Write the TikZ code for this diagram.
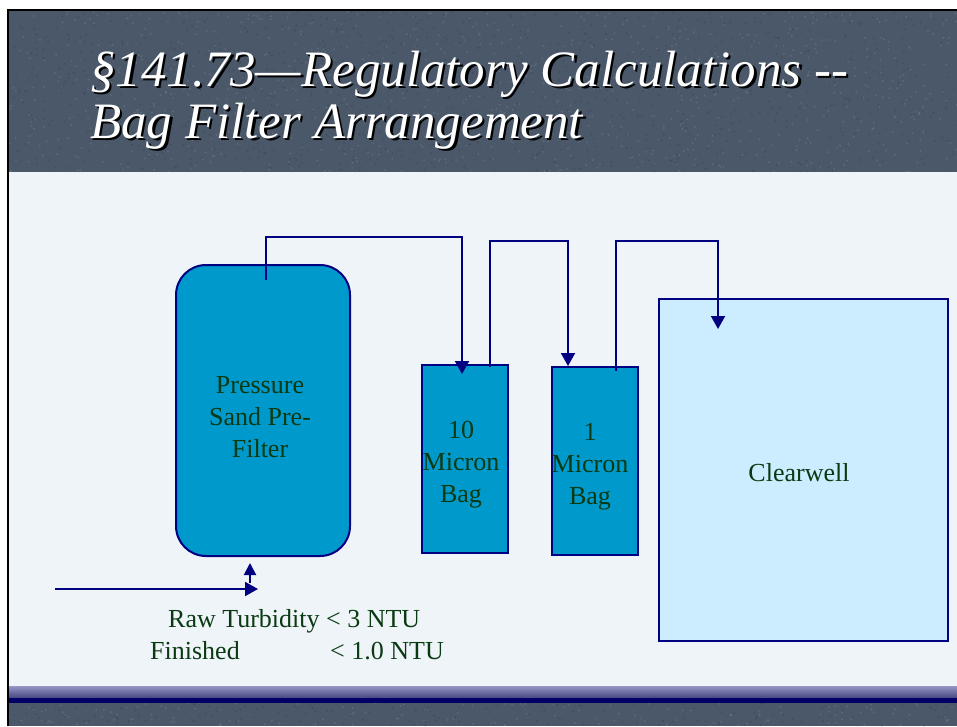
\documentclass[tikz,border=0pt]{standalone}
\usepackage{fontspec}
\setmainfont{Liberation Serif}
\usetikzlibrary{arrows.meta}
\definecolor{navyline}{RGB}{0,0,128}
\definecolor{slate}{RGB}{74,88,106}
\definecolor{paper}{RGB}{239,244,249}
\definecolor{tank}{RGB}{0,153,204}
\definecolor{well}{RGB}{204,236,255}
\definecolor{txt}{RGB}{10,58,18}
\definecolor{bandtop}{RGB}{150,150,196}
\definecolor{bandbot}{RGB}{70,70,130}
\definecolor{bandnavy}{RGB}{0,0,102}
\newcommand{\shadowtext}[1]{\makebox[0pt][l]{\hspace{2.5pt}\raisebox{-2.5pt}{\color{black}#1}}#1}
\tikzset{
  titletext/.style={font=\fontsize{51}{55}\selectfont\itshape, text=white, inner sep=0pt, anchor=base west},
  unitbox/.style={draw=navyline, line width=2pt, fill=tank, inner sep=0pt},
  labeltext/.style={font=\fontsize{26}{32}\selectfont, text=txt, align=center, inner sep=0pt},
  pipe/.style={draw=navyline, line width=2pt},
  flow/.style={pipe, -{Triangle[length=13pt,width=14pt]}},
  smallflow/.style={pipe, -{Triangle[length=12pt,width=12pt]}}
}
\begin{document}
\begin{tikzpicture}[x=1pt,y=-1pt]
\useasboundingbox (0,0) rectangle (957,726);
\fill[white] (0,0) rectangle (957,726);
% slide background bands
\fill[slate] (9,11) rectangle (957,726);
\pgfmathsetseed{7}
\foreach \i in {1,...,900} {
  \fill[white,opacity=0.10] ({9+948*rnd},{11+161*rnd}) circle (1.1);
  \fill[black,opacity=0.10] ({9+948*rnd},{11+161*rnd}) circle (1.1);
}
\foreach \i in {1,...,150} {
  \fill[white,opacity=0.10] ({9+948*rnd},{703+23*rnd}) circle (1.1);
  \fill[black,opacity=0.10] ({9+948*rnd},{703+23*rnd}) circle (1.1);
}
\fill[paper] (9,172) rectangle (957,686);
\shade[top color=bandtop, bottom color=bandbot] (9,686) rectangle (957,698);
\fill[bandnavy] (9,698) rectangle (957,703);
\draw[black, line width=1.5pt] (8,726) -- (8,10) -- (957,10);
% title with shadow
\node[titletext] (t1) at (90,86) {\shadowtext{§141.73—Regulatory Calculations -{}-}};
\node[titletext] (t2) at (90,138) {\shadowtext{Bag Filter Arrangement}};
% units
\node[unitbox, rounded corners=30pt, minimum width=174pt, minimum height=291pt] (pf) at (263,410.5) {};
\node[labeltext] (pflabel) at (260,417) {Pressure\\Sand Pre-\\Filter};
\node[unitbox, minimum width=86pt, minimum height=188pt] (bag10) at (465,459) {};
\node[labeltext] (bag10label) at (461,465) {10\\Micron\\Bag};
\node[unitbox, minimum width=86pt, minimum height=188pt] (bag1) at (595,461) {};
\node[labeltext] (bag1label) at (590,467) {1\\Micron\\Bag};
\node[unitbox, fill=well, line width=2.2pt, minimum width=289pt, minimum height=342pt] (cw) at (803.5,470) {};
\node[labeltext] (cwlabel) at (799,473) {Clearwell};
% connector points
\coordinate (pfout) at (266,280);
\coordinate (c1) at (462,237);
\coordinate (b10in) at (462,374);
\coordinate (b10out) at (490,367);
\coordinate (c2) at (568,241);
\coordinate (b1in) at (568,366);
\coordinate (b1out) at (616,371);
\coordinate (c3) at (718,241);
\coordinate (cwin) at (718,329);
\coordinate (inlet) at (55,589);
\coordinate (pfin) at (258,589);
\coordinate (upstart) at (250,583);
\coordinate (upend) at (250,563);
% connectors
\draw[flow] (pfout) |- (c1) -- (b10in);
\draw[flow] (b10out) |- (c2) -- (b1in);
\draw[flow] (b1out) |- (c3) -- (cwin);
\draw[flow] (inlet) -- (pfin);
\draw[smallflow] (upstart) -- (upend);
% notes
\node[labeltext, anchor=base west] (raw) at (168,627) {Raw Turbidity {<} 3 NTU};
\node[labeltext, anchor=base west] (fin) at (150,659) {Finished};
\node[labeltext, anchor=base west] (finval) at (330,659) {{<} 1.0 NTU};
\end{tikzpicture}
\end{document}
